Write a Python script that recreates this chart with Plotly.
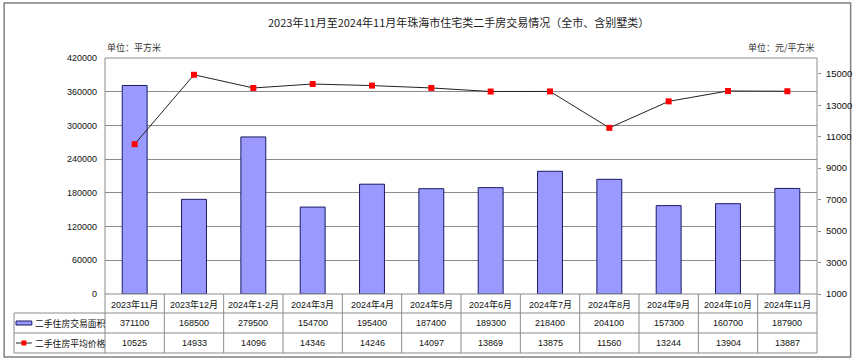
import plotly.graph_objects as go

categories = ["2023年11月", "2023年12月", "2024年1-2月", "2024年3月", "2024年4月", "2024年5月",
              "2024年6月", "2024年7月", "2024年8月", "2024年9月", "2024年10月", "2024年11月"]
area = [371100, 168500, 279500, 154700, 195400, 187400, 189300, 218400, 204100, 157300, 160700, 187900]
price = [10525, 14933, 14096, 14346, 14246, 14097, 13869, 13875, 11560, 13244, 13904, 13887]
series_names = ["二手住房交易面积", "二手住房平均价格"]
title_text = "2023年11月至2024年11月年珠海市住宅类二手房交易情况（全市、含别墅类）"
left_unit = "单位：平方米"
right_unit = "单位：元/平方米"
left_ticks = [0, 60000, 120000, 180000, 240000, 300000, 360000, 420000]
right_ticks = [1000, 3000, 5000, 7000, 9000, 11000, 13000, 15000]

W, H = 864, 361
L, R, T, B = 105, 825, 58, 294
PW, PH = R - L, B - T


def px(x):
    return (x - L) / PW


def py(y):
    return (B - y) / PH


FONT = "Liberation Sans, Arial, Noto Sans CJK SC, sans-serif"
CJK = "Noto Sans CJK SC, sans-serif"
GRID = "#8c8c8c"
FS = 9

fig = go.Figure()
fig.add_trace(go.Bar(
    x=categories, y=area, name=series_names[0], width=0.42,
    marker=dict(color="#9999FF", line=dict(color="#1a1a66", width=1)),
    yaxis="y", showlegend=False))
fig.add_trace(go.Scatter(
    x=categories, y=price, name=series_names[1], mode="lines+markers",
    line=dict(color="#222222", width=1),
    marker=dict(symbol="square", size=6, color="#FF0000"),
    yaxis="y2", showlegend=False))

shapes = []
ann = []

# outer border
shapes.append(dict(type="rect", xref="paper", yref="paper", x0=px(3), x1=px(859), y0=py(357), y1=py(3),
                   line=dict(color="#808080", width=1.5), layer="below"))
# plot frame
shapes.append(dict(type="rect", xref="paper", yref="paper", x0=0, x1=1, y0=0, y1=1,
                   line=dict(color=GRID, width=1)))

# table
row_lines = [313, 333, 353]
for yy in row_lines:
    shapes.append(dict(type="line", xref="paper", yref="paper", x0=px(13), x1=1, y0=py(yy), y1=py(yy),
                       line=dict(color=GRID, width=1)))
shapes.append(dict(type="line", xref="paper", yref="paper", x0=px(13), x1=px(13), y0=py(313), y1=py(353),
                   line=dict(color=GRID, width=1)))
n = len(categories)
for i in range(n + 1):
    shapes.append(dict(type="line", xref="paper", yref="paper", x0=i / n, x1=i / n, y0=py(294), y1=py(353),
                       line=dict(color=GRID, width=1)))

# legend icons
shapes.append(dict(type="rect", xref="paper", yref="paper", x0=px(15), x1=px(31), y0=py(325), y1=py(321),
                   fillcolor="#9999FF", line=dict(color="#1a1a66", width=1)))
shapes.append(dict(type="line", xref="paper", yref="paper", x0=px(15), x1=px(31), y0=py(343), y1=py(343),
                   line=dict(color="#222222", width=1)))
shapes.append(dict(type="rect", xref="paper", yref="paper", x0=px(20.5), x1=px(25.5), y0=py(345.5), y1=py(340.5),
                   fillcolor="#FF0000", line=dict(color="#FF0000", width=0)))

for j, name in enumerate(series_names):
    ann.append(dict(text=name, xref="paper", yref="paper", x=px(32), y=py(323 + 20 * j),
                    xanchor="left", yanchor="middle", showarrow=False,
                    font=dict(family=CJK, size=8.8, color="#111111")))

for i, c in enumerate(categories):
    ann.append(dict(text=c, xref="x", yref="paper", x=c, y=py(304), xanchor="center", yanchor="middle",
                    showarrow=False, font=dict(family=FONT, size=FS, color="#111111")))
    ann.append(dict(text=str(area[i]), xref="x", yref="paper", x=c, y=py(323), xanchor="center",
                    yanchor="middle", showarrow=False, font=dict(family=FONT, size=FS, color="#111111")))
    ann.append(dict(text=str(price[i]), xref="x", yref="paper", x=c, y=py(343), xanchor="center",
                    yanchor="middle", showarrow=False, font=dict(family=FONT, size=FS, color="#111111")))

# title and units
ann.append(dict(text=title_text, xref="paper", yref="paper", x=px(462), y=py(22), xanchor="center",
                yanchor="middle", showarrow=False, font=dict(family=CJK, size=11, color="#222222")))
ann.append(dict(text=left_unit, xref="paper", yref="paper", x=0, y=py(48), xanchor="left",
                yanchor="middle", showarrow=False, font=dict(family=CJK, size=9, color="#333333")))
ann.append(dict(text=right_unit, xref="paper", yref="paper", x=1, y=py(48), xanchor="right",
                yanchor="middle", showarrow=False, font=dict(family=CJK, size=9, color="#333333")))

fig.update_layout(
    width=W, height=H,
    margin=dict(l=L, r=W - R, t=T, b=H - B, pad=0),
    paper_bgcolor="white", plot_bgcolor="white",
    showlegend=False,
    bargap=0.58,
    xaxis=dict(type="category", range=[-0.5, n - 0.5], showticklabels=False, showgrid=False,
               zeroline=False, showline=False, ticks=""),
    yaxis=dict(range=[0, 420000], tickvals=left_ticks, ticktext=[str(v) for v in left_ticks],
               showgrid=True, gridcolor=GRID, gridwidth=1, zeroline=False, showline=False,
               ticks="", ticklabelstandoff=7,
               tickfont=dict(family=FONT, size=FS, color="#111111")),
    yaxis2=dict(range=[1000, 16000], tickvals=right_ticks, ticktext=[str(v) for v in right_ticks],
                overlaying="y", side="right", showgrid=False, zeroline=False, showline=False,
                ticks="outside", ticklen=3, tickcolor=GRID, ticklabelstandoff=3,
                tickfont=dict(family=FONT, size=FS + 0.5, color="#111111")),
    shapes=shapes, annotations=ann,
)

fig.write_html("out.html", config={"displayModeBar": False},
               post_script="document.body.style.margin='0';document.body.style.overflow='hidden';")
